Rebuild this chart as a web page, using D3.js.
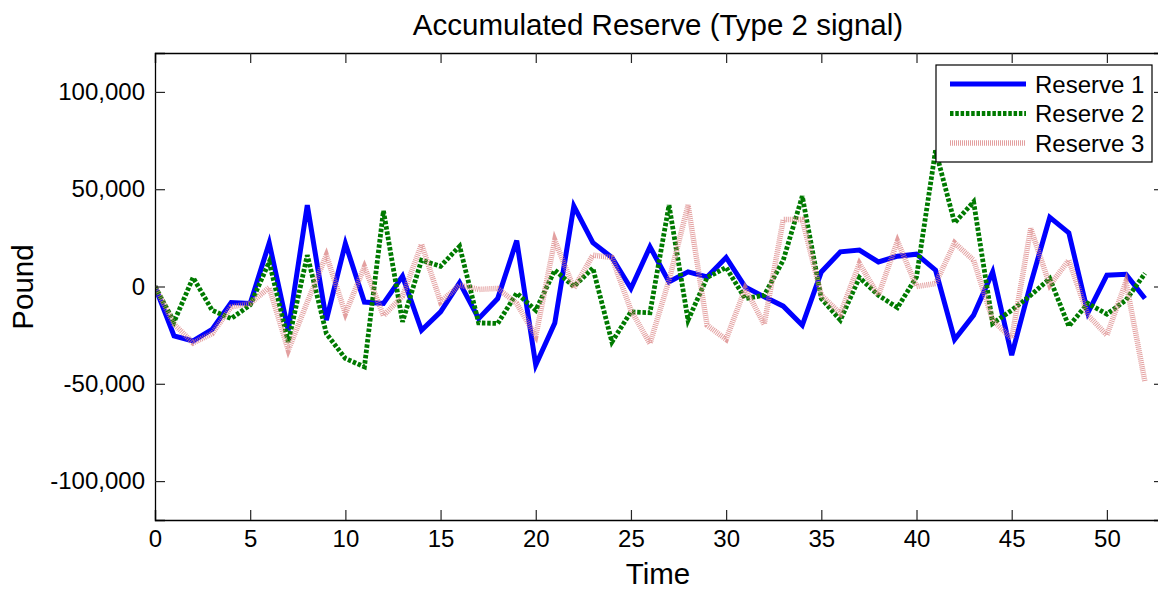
<!DOCTYPE html>
<html>
<head>
<meta charset="utf-8">
<script src="https://cdn.jsdelivr.net/npm/d3@7"></script>
<style>
  html, body { margin: 0; padding: 0; background: #fff; }
  svg { display: block; font-family: "Liberation Sans", Arial, sans-serif; }
</style>
</head>
<body>
<svg id="chart" width="1158" height="589"></svg>
<script>
const times = d3.range(0, 53);
const seriesNames = ["Reserve 1", "Reserve 2", "Reserve 3"];
const reserve1 = [0, -25400, -28000, -22100, -8200, -8700, 22400, -22500, 41800, -17300,
  22100, -8000, -8700, 5300, -22500, -13000, 2000, -16500, -6200, 23600,
  -40400, -18800, 41300, 22500, 14900, -1000, 20400, 2400, 7500, 4900,
  14900, -200, -5300, -10100, -19900, 7500, 17800, 18700, 12600, 15600,
  16600, 8400, -27200, -14700, 7500, -35300, 1500, 35500, 27600, -13500,
  5800, 6300, -6200];
const reserve2 = [0, -18200, 4600, -12200, -16500, -9500, 12600, -28500, 16100, -24200,
  -37000, -41300, 38900, -18200, 13500, 10400, 20700, -18700, -19000, -3400,
  -12200, 8400, 0, 9500, -28500, -13000, -13500, 41800, -17300, 4600,
  9800, -6200, -4500, 13500, 46400, -6200, -17300, 4600, -4500, -10900,
  4900, 70000, 32700, 43500, -19000, -12200, -4500, 4100, -20400, -8700,
  -14200, -7000, 6700];
const reserve3 = [0, -19400, -29000, -24200, -10500, -8700, -500, -32700, -8000, 16100,
  -13900, 10100, -15000, -5000, 21700, -7900, 700, -1500, -1000, -8700,
  -25500, 23800, -800, 16100, 14900, -12200, -29300, 3200, 41800, -19900,
  -27200, -1000, -19400, 34400, 34400, -4500, -13900, 11800, -4500, 23300,
  0, 1500, 22400, 13500, -17300, -26700, 29800, 700, 13500, -14700,
  -25000, 2400, -49000];
const xTicks = [0, 5, 10, 15, 20, 25, 30, 35, 40, 45, 50];
const yTicks = [-100000, -50000, 0, 50000, 100000];

const styles = [
  { color: "#0000ff", width: 5, dash: null, opacity: 1 },
  { color: "#007a00", width: 4.8, dash: "3.5,1.8", opacity: 1 },
  { color: "#d98080", width: 5.5, dash: "1,1", opacity: 0.75 }
];
const allSeries = [reserve1, reserve2, reserve3];

const svg = d3.select("#chart");
const pLeft = 155, pRight = 1164, pTop = 53, pBottom = 520;
const x = d3.scaleLinear().domain([0, 53]).range([pLeft, pRight]);
const y = d3.scaleLinear().domain([-120000, 120000]).range([pBottom, pTop]);

svg.append("defs").append("clipPath").attr("id", "clip")
  .append("rect").attr("x", pLeft).attr("y", pTop).attr("width", pRight - pLeft).attr("height", pBottom - pTop);

// Lines
const line = d3.line().x((d, i) => x(times[i])).y(d => y(d));
const gLines = svg.append("g").attr("clip-path", "url(#clip)");
allSeries.forEach((s, k) => {
  const st = styles[k];
  gLines.append("path")
    .datum(s)
    .attr("fill", "none")
    .attr("stroke", st.color)
    .attr("stroke-width", st.width)
    .attr("stroke-opacity", st.opacity)
    .attr("stroke-dasharray", st.dash)
    .attr("stroke-linejoin", "miter")
    .attr("d", line);
});

// Axes
const comma = d3.format(",");
const fmt = d => comma(d).replace("\u2212", "-");
const axB = svg.append("g").attr("transform", `translate(0,${pBottom})`)
  .call(d3.axisBottom(x).tickValues(xTicks).tickSize(-10).tickPadding(20).tickFormat(d3.format("d")));
const axT = svg.append("g").attr("transform", `translate(0,${pTop})`)
  .call(d3.axisTop(x).tickValues(xTicks).tickSize(-10).tickFormat(""));
const axL = svg.append("g").attr("transform", `translate(${pLeft},0)`)
  .call(d3.axisLeft(y).tickValues(yTicks).tickSize(-10).tickPadding(20).tickFormat(fmt));
const axR = svg.append("g").attr("transform", `translate(${pRight},0)`)
  .call(d3.axisRight(y).tickValues(yTicks).tickSize(-10).tickFormat(""));
[axB, axT, axL, axR].forEach(a => {
  a.select(".domain").attr("stroke", "#000").attr("stroke-width", 1.3);
  a.selectAll(".tick line").attr("stroke", "#262626").attr("stroke-width", 1.2);
  a.selectAll(".tick text").attr("fill", "#000").style("font-size", "24px")
    .style("font-family", "'Liberation Sans', Arial, sans-serif");
});
axB.selectAll(".tick text").attr("dy", "0.71em").attr("y", 10);
axL.selectAll(".tick text").attr("x", -10);

// Title & labels
svg.append("text").attr("x", 658).attr("y", 35).attr("text-anchor", "middle")
  .style("font-size", "29.5px").text("Accumulated Reserve (Type 2 signal)");
svg.append("text").attr("x", 658).attr("y", 584).attr("text-anchor", "middle")
  .style("font-size", "29.5px").text("Time");
svg.append("text").attr("transform", "translate(33,287) rotate(-90)").attr("text-anchor", "middle")
  .style("font-size", "29.5px").text("Pound");

// Legend
const lg = svg.append("g");
lg.append("rect").attr("x", 936).attr("y", 65).attr("width", 216).attr("height", 97)
  .attr("fill", "#fff").attr("stroke", "#000").attr("stroke-width", 1.2);
const rowY = [84, 113.5, 143];
seriesNames.forEach((name, k) => {
  const st = styles[k];
  lg.append("line").attr("x1", 950).attr("x2", 1026).attr("y1", rowY[k]).attr("y2", rowY[k])
    .attr("stroke", st.color).attr("stroke-width", st.width)
    .attr("stroke-opacity", st.opacity).attr("stroke-dasharray", st.dash);
  lg.append("text").attr("x", 1035).attr("y", rowY[k]).attr("dy", "0.36em")
    .style("font-size", "24px").text(name);
});
</script>
</body>
</html>
